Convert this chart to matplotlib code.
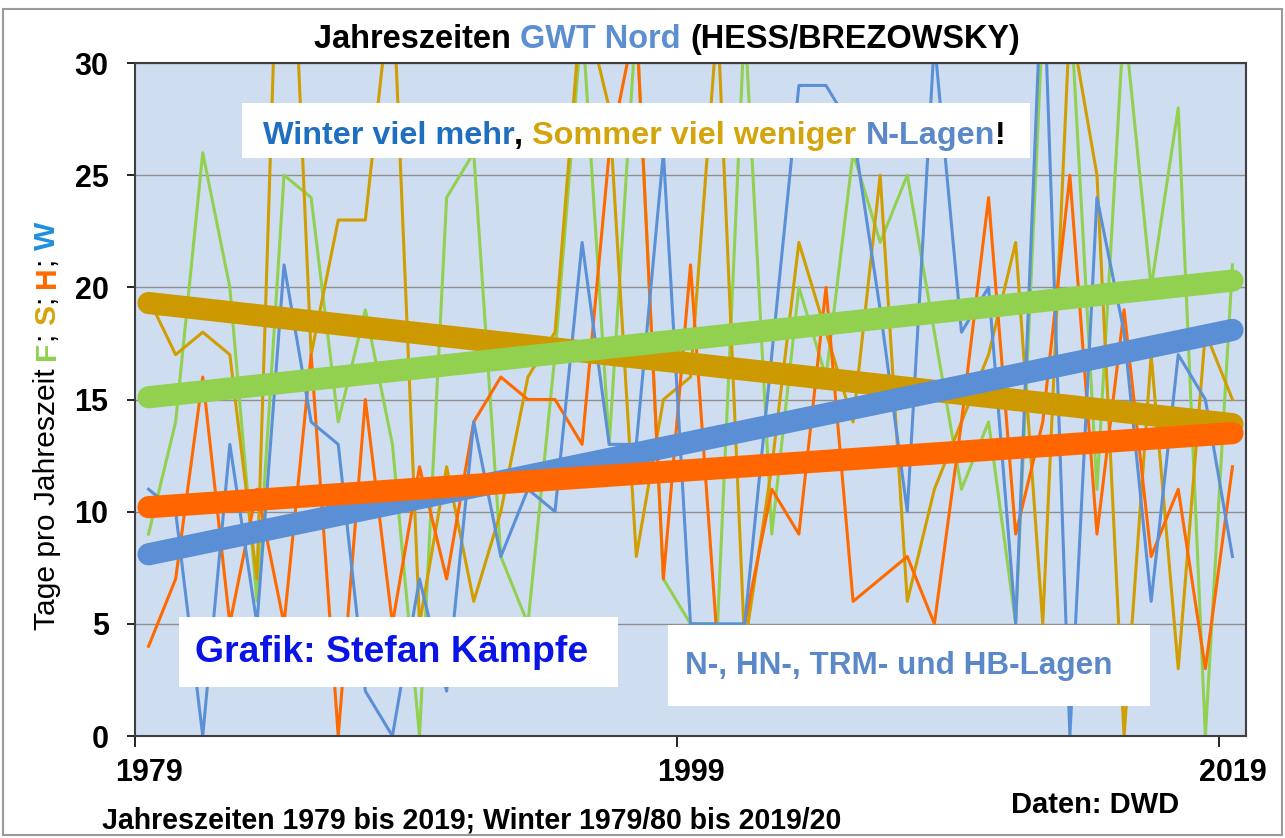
import matplotlib
matplotlib.use("Agg")
import matplotlib.pyplot as plt
from matplotlib.patches import Rectangle

W, H = 1285, 838
FONT = ["Liberation Sans", "DejaVu Sans"]
NARROW = ["Liberation Sans Narrow", "Liberation Sans", "DejaVu Sans"]

# Jahreszeiten 1979..2019 (Winter 1979/80..2019/20), Tage mit N-Lagen
jahre = list(range(1979, 2020))
fruehling = [9, 14, 26, 20, 6, 25, 24, 14, 19, 13, 0, 24, 26, 8, 5, 17, 32, 13, 32, 7,
             5, 5, 32, 9, 20, 16, 26, 22, 25, 18, 11, 14, 5, 32, 33, 11, 32, 20, 28, 0, 21]
sommer = [19.5, 17, 18, 17, 7, 45, 17, 23, 23, 34, 5, 12, 6, 10, 16, 18, 33, 28, 8, 15,
          16, 32, 4, 12, 22, 18, 14, 25, 6, 11, 14, 17, 22, 5, 32, 25, 0, 17, 3, 18, 15]
herbst = [4, 7, 16, 5, 11, 5, 17, 0, 15, 5, 12, 7, 14, 16, 15, 15, 13, 26, 32, 7,
          21, 4, 5, 11, 9, 20, 6, 7, 8, 5, 14, 24, 9, 14, 25, 9, 19, 8, 11, 3, 12]
winter = [11, 10, 0, 13, 5, 21, 14, 13, 2, 0, 7, 2, 14, 8, 11, 10, 22, 13, 13, 26,
          5, 5, 5, 17, 29, 29, 27, 19, 10, 31, 18, 20, 5, 35, 0, 24, 18, 6, 17, 15, 8]

# linear trends, start/end values
trend_jahre = [1979, 2019]
trend_fruehling = [15.1, 20.3]
trend_sommer = [19.3, 13.9]
trend_herbst = [10.2, 13.5]
trend_winter = [8.1, 18.1]

x_ticks = [1979, 1999, 2019]
y_ticks = [0, 5, 10, 15, 20, 25, 30]

C_F = "#92d050"
C_S = "#d09e00"
C_H = "#ff6a00"
C_W = "#5b90d6"
BG = "#cfddf1"


def text_adv(fig, s, fs, weight, family):
    """Advance width in px of s (trailing blanks included)."""
    r = fig.canvas.get_renderer()
    t1 = fig.text(0, 0, s + "|", fontsize=fs, fontweight=weight, family=family)
    t2 = fig.text(0, 0, "|", fontsize=fs, fontweight=weight, family=family)
    w = t1.get_window_extent(r).width - t2.get_window_extent(r).width
    t1.remove()
    t2.remove()
    return w


def multicolor_text(fig, pieces, cx, cy, target, vertical=False, family=FONT):
    """Pieces (text, color, weight) end to end, scaled to `target` px, centred on (cx, cy) px."""
    base = sum(text_adv(fig, s, 20, w, family) for s, _, w in pieces)
    fs = 20 * target / base
    advs = [text_adv(fig, s, fs, w, family) for s, _, w in pieces]
    off = -sum(advs) / 2
    half_cap = 0.36 * fs * 100 / 72
    for (s, c, w), a in zip(pieces, advs):
        if vertical:
            x, y, rot = cx + half_cap, cy - off, 90
        else:
            x, y, rot = cx + off, cy + half_cap, 0
        fig.text(x / W, 1 - y / H, s, color=c, fontsize=fs, fontweight=w, family=family,
                 rotation=rot, rotation_mode="anchor", ha="left", va="baseline", zorder=5)
        off += a


def white_box(fig, x0, y0, x1, y1):
    fig.patches.append(Rectangle((x0 / W, 1 - y1 / H), (x1 - x0) / W, (y1 - y0) / H,
                                 transform=fig.transFigure, facecolor="white",
                                 edgecolor="none", zorder=4))


fig = plt.figure(figsize=(W / 100, H / 100), dpi=100)
ax = fig.add_axes([135 / W, 1 - 736 / H, (1246 - 135) / W, (736 - 63) / H])
ax.set_facecolor(BG)
ax.set_xlim(1978.5, 2019.5)
ax.set_ylim(0, 30)

for vals, c in [(fruehling, C_F), (sommer, C_S), (herbst, C_H), (winter, C_W)]:
    ax.plot(jahre, vals, color=c, lw=2.2, zorder=2)

for vals, c in [(trend_sommer, "#cc9900"), (trend_fruehling, C_F),
                (trend_winter, "#5a8fd5"), (trend_herbst, "#ff6600")]:
    ax.plot(trend_jahre, vals, color=c, lw=16, solid_capstyle="round", zorder=3)

ax.set_yticks(y_ticks)
ax.set_yticklabels([str(v) for v in y_ticks], fontsize=22, fontweight="bold", family=NARROW)
ax.tick_params(axis="y", length=6, width=1.2, pad=13)
ax.grid(axis="y", color="#8f8f8f", lw=1)
ax.set_axisbelow(True)

ax.set_xticks([1978.5, 1998.5, 2018.5])
ax.set_xticklabels([])
ax.tick_params(axis="x", which="major", length=8, width=1.2)
ax.set_xticks(x_ticks, minor=True)
ax.set_xticklabels([str(v) for v in x_ticks], minor=True, fontsize=22,
                   fontweight="bold", family=NARROW)
ax.tick_params(axis="x", which="minor", length=0, pad=16)
for sp in ax.spines.values():
    sp.set_color("#404040")
    sp.set_linewidth(1.5)

# outer frame
fig.patches.append(Rectangle((3 / W, 3 / H), (W - 6) / W, (H - 12) / H,
                             transform=fig.transFigure, fill=False,
                             edgecolor="#9a9a9a", lw=1.5, zorder=1))

multicolor_text(fig, [("Jahreszeiten ", "black", "bold"),
                      ("GWT Nord ", "#5b8fd0", "bold"),
                      ("(HESS/BREZOWSKY)", "black", "bold")], 667, 36, 707)

white_box(fig, 242, 103, 1030, 158)
multicolor_text(fig, [("Winter viel mehr", "#1f6fc0", "bold"),
                      (", ", "black", "bold"),
                      ("Sommer viel weniger ", "#d4a40c", "bold"),
                      ("N-Lagen", "#5b88c8", "bold"),
                      ("!", "black", "bold")], 634, 132, 743)

white_box(fig, 179, 617, 618, 687)
multicolor_text(fig, [("Grafik: Stefan Kämpfe", "#0a14e6", "bold")], 392, 649, 393)

white_box(fig, 668, 625, 1150, 706)
multicolor_text(fig, [("N-, HN-, TRM- und HB-Lagen", "#5b88c8", "bold")], 899, 663, 427)

multicolor_text(fig, [("Tage pro Jahreszeit ", "black", "normal"),
                      ("F", C_F, "bold"), ("; ", "black", "normal"),
                      ("S", "#d4a40c", "bold"), ("; ", "black", "normal"),
                      ("H", "#ff6a00", "bold"), ("; ", "black", "normal"),
                      ("W", "#1f8fe0", "bold")], 44, 426, 408, vertical=True)

multicolor_text(fig, [("Jahreszeiten 1979 bis 2019; Winter 1979/80 bis 2019/20", "black", "bold")],
                472, 818, 742, family=NARROW)
multicolor_text(fig, [("Daten: DWD", "black", "bold")], 1095, 803, 168, family=NARROW)

fig.savefig("out.png", dpi=100, facecolor="white")
